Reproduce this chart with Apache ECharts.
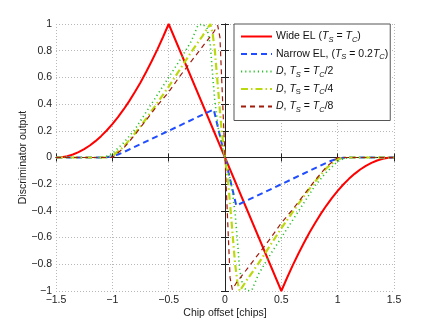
<!DOCTYPE html>
<html>
<head>
<meta charset="utf-8">
<script src="https://cdn.jsdelivr.net/npm/echarts@6/dist/echarts.min.js"></script>
<style>
html,body{margin:0;padding:0;background:#fff;}
#c{width:436px;height:328px;}
</style>
</head>
<body>
<div id="c"></div>
<script>
// ---- data ----
const xTicks = [-1.5, -1, -0.5, 0, 0.5, 1, 1.5];
const yTicks = [-1, -0.8, -0.6, -0.4, -0.2, 0, 0.2, 0.4, 0.6, 0.8, 1];

const wideX = [-1.5, -1.45, -1.4, -1.35, -1.3, -1.25, -1.2, -1.15, -1.1, -1.05, -1.0, -0.95, -0.9, -0.85, -0.8, -0.75, -0.7, -0.65, -0.6, -0.55, -0.5, 0, 0.5, 0.55, 0.6, 0.65, 0.7, 0.75, 0.8, 0.85, 0.9, 0.95, 1.0, 1.05, 1.1, 1.15, 1.2, 1.25, 1.3, 1.35, 1.4, 1.45, 1.5];
const wideY = [0, 0.0025, 0.01, 0.0225, 0.04, 0.0625, 0.09, 0.1225, 0.16, 0.2025, 0.25, 0.3025, 0.36, 0.4225, 0.49, 0.5625, 0.64, 0.7225, 0.81, 0.9025, 1.0, 0, -1.0, -0.9025, -0.81, -0.7225, -0.64, -0.5625, -0.49, -0.4225, -0.36, -0.3025, -0.25, -0.2025, -0.16, -0.1225, -0.09, -0.0625, -0.04, -0.0225, -0.01, -0.0025, 0];

const narrowX = [-1.5, -1.1, -1.05, -1.0, -0.95, -0.9, -0.1, 0.1, 0.9, 0.95, 1.0, 1.05, 1.1, 1.5];
const narrowY = [0, 0, 0.0025, 0.01, 0.0225, 0.04, 0.36, -0.36, -0.04, -0.0225, -0.01, -0.0025, 0, 0];

const d2X = [-1.5, -1.1, -1.05, -1.0, -0.9, -0.8, -0.7, -0.6, -0.5, -0.4, -0.3, -0.24, -0.2, -0.16, -0.13, -0.11, -0.09, -0.06, -0.03, 0, 0.03, 0.06, 0.09, 0.11, 0.13, 0.16, 0.2, 0.24, 0.3, 0.4, 0.5, 0.6, 0.7, 0.8, 0.9, 1.0, 1.05, 1.1, 1.5];
const d2Y = [0, 0, 0.01, 0.03, 0.11, 0.21, 0.34, 0.47, 0.6, 0.73, 0.87, 0.99, 1.0, 0.97, 0.84, 0.62, 0.42, 0.22, 0.1, 0, -0.1, -0.22, -0.42, -0.62, -0.84, -0.97, -1.0, -0.99, -0.87, -0.73, -0.6, -0.47, -0.34, -0.21, -0.11, -0.03, -0.01, 0, 0];

const d4X = [-1.5, -1.06, -1.0, -0.9, -0.8, -0.7, -0.6, -0.5, -0.4, -0.3, -0.2, -0.13, -0.11, -0.09, -0.07, -0.05, -0.03, 0, 0.03, 0.05, 0.07, 0.09, 0.11, 0.13, 0.2, 0.3, 0.4, 0.5, 0.6, 0.7, 0.8, 0.9, 1.0, 1.06, 1.5];
const d4Y = [0, 0, 0.01, 0.08, 0.18, 0.29, 0.41, 0.53, 0.66, 0.79, 0.91, 1.0, 0.93, 0.8, 0.6, 0.4, 0.2, 0, -0.2, -0.4, -0.6, -0.8, -0.93, -1.0, -0.91, -0.79, -0.66, -0.53, -0.41, -0.29, -0.18, -0.08, -0.01, 0, 0];

const d8X = [-1.5, -1.0, -0.9, -0.8, -0.7, -0.6, -0.5, -0.4, -0.3, -0.2, -0.1, -0.065, -0.045, -0.03, -0.015, 0, 0.015, 0.03, 0.045, 0.065, 0.1, 0.2, 0.3, 0.4, 0.5, 0.6, 0.7, 0.8, 0.9, 1.0, 1.5];
const d8Y = [0, 0, 0.07, 0.17, 0.28, 0.39, 0.49, 0.61, 0.72, 0.83, 0.94, 0.99, 0.9, 0.6, 0.3, 0, -0.3, -0.6, -0.9, -0.99, -0.94, -0.83, -0.72, -0.61, -0.49, -0.39, -0.28, -0.17, -0.07, 0, 0];

const seriesNames = ['wide', 'narrow', 'd2', 'd4', 'd8'];
const legendLabels = {
  wide: 'Wide EL ({i|T}{s|S} = {i|T}{s|C})',
  narrow: 'Narrow EL, ({i|T}{s|S} = 0.2{i|T}{s|C})',
  d2: '{i|D}, {i|T}{s|S} = {i|T}{s|C}/2',
  d4: '{i|D}, {i|T}{u|S} = {i|T}{s|C}/4',
  d8: '{i|D}, {i|T}{s|S} = {i|T}{s|C}/8'
};
// --------------------------------------

function pairs(xs, ys) { return xs.map((x, i) => [x, ys[i]]); }
function fmt(v) {
  const r = Math.round(v * 10) / 10;
  if (r === 0) return '0';
  return (r < 0 ? '\u2212' : '') + String(Math.abs(r));
}

const FONT = 'Liberation Sans, Arial, Helvetica, sans-serif';
const FS = 10.5;
const chart = echarts.init(document.getElementById('c'), null, {renderer: 'canvas'});

const gridLine = {show: true, lineStyle: {color: '#b8b8b8', type: [1, 2], width: 1}};
const axLine = {show: true, lineStyle: {color: '#222', width: 1}};
const tick = {show: true, inside: true, length: 4, lineStyle: {color: '#222', width: 1}};

function mkLine(name, xs, ys, color, width, type) {
  return {
    name: name, type: 'line', data: pairs(xs, ys), xAxisIndex: 0, yAxisIndex: 0,
    symbol: 'none', showSymbol: false, smooth: false, clip: true, animation: false,
    lineStyle: {color: color, width: width, type: type}, itemStyle: {color: color},
    emphasis: {disabled: true}
  };
}

chart.setOption({
  backgroundColor: '#fff',
  animation: false,
  textStyle: {fontFamily: FONT},
  grid: {left: 56, right: 42, top: 24, bottom: 37, containLabel: false},
  xAxis: [{
    type: 'value', min: -1.5, max: 1.5, interval: 0.5, position: 'bottom',
    name: 'Chip offset [chips]', nameLocation: 'middle', nameGap: 17, nameMoveOverlap: false,
    nameTextStyle: {fontFamily: FONT, fontSize: FS, color: '#222'},
    axisLine: axLine, axisTick: tick, splitLine: gridLine,
    axisLabel: {fontFamily: FONT, fontSize: FS, color: '#222', margin: 4, formatter: fmt}
  }, {
    type: 'value', min: -1.5, max: 1.5, interval: 0.5, position: 'top',
    axisLine: axLine, axisTick: tick, splitLine: {show: false}, axisLabel: {show: false}
  }],
  yAxis: [{
    type: 'value', min: -1, max: 1, interval: 0.2, position: 'left',
    name: 'Discriminator output', nameLocation: 'middle', nameGap: 27, nameMoveOverlap: false,
    nameTextStyle: {fontFamily: FONT, fontSize: FS, color: '#222'},
    axisLine: axLine, axisTick: tick, splitLine: gridLine,
    axisLabel: {fontFamily: FONT, fontSize: FS, color: '#222', margin: 4, formatter: fmt}
  }, {
    type: 'value', min: -1, max: 1, interval: 0.2, position: 'right',
    axisLine: axLine, axisTick: tick, splitLine: {show: false}, axisLabel: {show: false}
  }],
  legend: {
    data: seriesNames, orient: 'vertical', left: 234, top: 24,
    padding: [7, 2, 7, 6], itemGap: 5, itemWidth: 31, itemHeight: 11,
    backgroundColor: '#fff', borderColor: '#555', borderWidth: 1,
    selectedMode: false,
    itemStyle: {color: 'rgba(0,0,0,0)', borderColor: 'rgba(0,0,0,0)', borderWidth: 0},
    formatter: n => legendLabels[n],
    textStyle: {
      fontFamily: FONT, fontSize: FS, color: '#111', padding: [0, 0, 0, -1],
      rich: {
        i: {fontFamily: FONT, fontSize: FS, fontStyle: 'italic', color: '#111'},
        s: {fontFamily: FONT, fontSize: 7.5, fontStyle: 'italic', color: '#111', padding: [6, 0, 0, 0]},
        u: {fontFamily: FONT, fontSize: 7.5, color: '#111', padding: [6, 0, 0, 0]}
      }
    }
  },
  series: [
    mkLine('wide', wideX, wideY, '#ff0000', 2, 'solid'),
    mkLine('narrow', narrowX, narrowY, '#1f4dff', 2, [6, 4]),
    mkLine('d2', d2X, d2Y, '#2fc02f', 1.6, [1.2, 3]),
    mkLine('d4', d4X, d4Y, '#bcd90f', 2.2, [7, 3, 1.5, 3]),
    mkLine('d8', d8X, d8Y, '#a01c0c', 1.2, [5, 4])
  ]
});
</script>
</body>
</html>
